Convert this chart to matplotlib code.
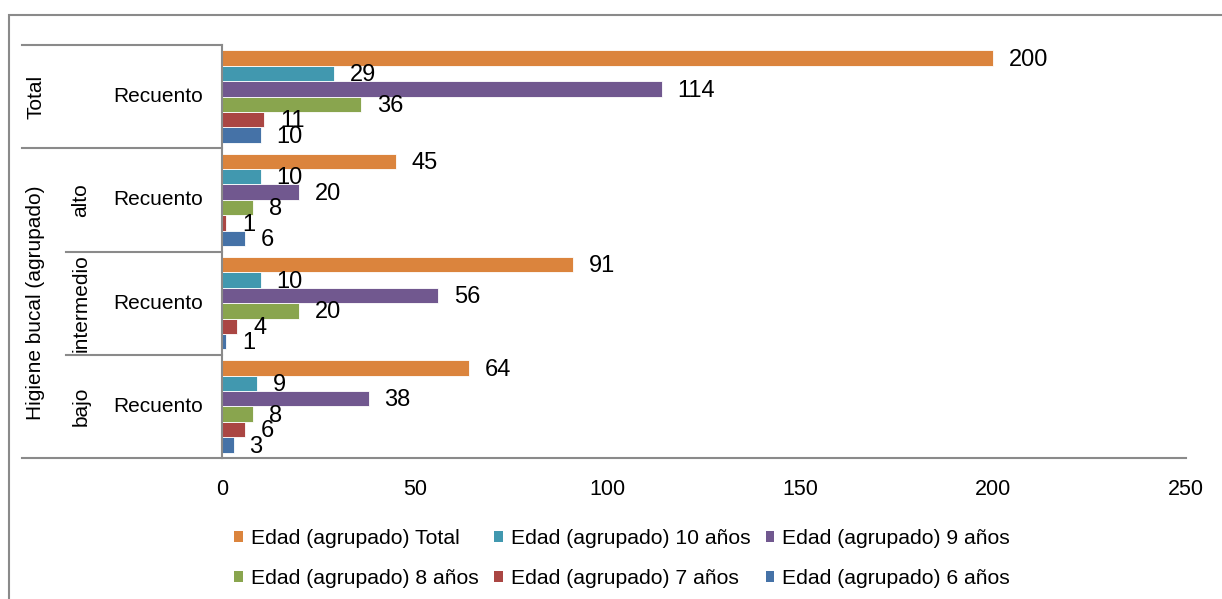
import matplotlib
matplotlib.use("Agg")
import matplotlib.pyplot as plt
import matplotlib.transforms as mtransforms
from matplotlib.patches import Rectangle, Patch
from matplotlib.lines import Line2D

plt.rcParams['font.family'] = ['Liberation Sans', 'DejaVu Sans']

# ---- data ----
groups = ["bajo", "intermedio", "alto", "Total"]          # bottom -> top
outer_labels = ["Higiene bucal (agrupado)", "Total"]
inner_label = "Recuento"
series_names = ["Edad (agrupado) 6 años", "Edad (agrupado) 7 años",
                "Edad (agrupado) 8 años", "Edad (agrupado) 9 años",
                "Edad (agrupado) 10 años", "Edad (agrupado) Total"]
v_6 = [3, 1, 6, 10]
v_7 = [6, 4, 1, 11]
v_8 = [8, 20, 8, 36]
v_9 = [38, 56, 20, 114]
v_10 = [9, 10, 10, 29]
v_total = [64, 91, 45, 200]
series_values = [v_6, v_7, v_8, v_9, v_10, v_total]
colors = ["#4572A7", "#AA4643", "#89A54E", "#71588F", "#4198AF", "#DB843D"]
xticks = [0, 50, 100, 150, 200, 250]

W, H = 1222, 599
fig = plt.figure(figsize=(W / 100, H / 100), dpi=100)
ax = fig.add_axes([222 / W, 1 - 458 / H, (1186 - 222) / W, (458 - 45) / H])

grey = "#8A8A8A"
bh = 0.149
n = len(series_values)
for i, (vals, col) in enumerate(zip(series_values, colors)):
    ys = [g + (i - (n - 1) / 2) * bh for g in range(len(groups))]
    ax.barh(ys, vals, height=bh, color=col, edgecolor="white", linewidth=0.6)
    for y, v in zip(ys, vals):
        ax.annotate(str(v), xy=(v, y), xytext=(11.5, -1.2), textcoords="offset points",
                    va="center", ha="left", fontsize=17, color="black")

ax.set_xlim(0, 250)
ax.set_ylim(-0.5, len(groups) - 0.5)
ax.set_xticks(xticks)
ax.set_xticklabels([str(t) for t in xticks], fontsize=15.5)
ax.tick_params(axis="x", length=0, pad=15)
ax.set_yticks([])
for s in ["top", "right"]:
    ax.spines[s].set_visible(False)
for s in ["left", "bottom"]:
    ax.spines[s].set_color(grey)
    ax.spines[s].set_linewidth(1.5)

# hierarchical category labels
tr = mtransforms.blended_transform_factory(fig.transFigure, ax.transData)
def fx(px):
    return px / W

for y, x0 in [(3.5, 22), (2.5, 22), (1.5, 66), (0.5, 66), (-0.5, 22)]:
    fig.add_artist(Line2D([fx(x0), fx(222)], [y, y], transform=tr, color=grey, lw=1.5))

fig.text(fx(36), 3, outer_labels[1], transform=tr, rotation=90, ha="center", va="center", fontsize=15)
fig.text(fx(36), 1, outer_labels[0], transform=tr, rotation=90, ha="center", va="center", fontsize=15)
for g, name in enumerate(groups[:3]):
    fig.text(fx(81), g, name, transform=tr, rotation=90, ha="center", va="center", fontsize=15)
for g in range(len(groups)):
    fig.text(fx(158), g, inner_label, transform=tr, ha="center", va="center", fontsize=15)

# legend
order = [5, 2, 4, 1, 3, 0]
handles = [Patch(facecolor=colors[k], edgecolor="none") for k in order]
labels = [series_names[k] for k in order]
fig.legend(handles, labels, ncol=3, loc="upper left",
           bbox_to_anchor=(234 / W, 1 - 529 / H), frameon=False, fontsize=15.2,
           handlelength=0.42, handleheight=0.42, handletextpad=0.38,
           columnspacing=0.72, labelspacing=0.98, borderpad=0, borderaxespad=0)

# outer frame
fig.add_artist(Rectangle((9 / W, -0.05), 1.1, 1 - 15 / H + 0.05, transform=fig.transFigure,
                         fill=False, edgecolor=grey, lw=1.5))

fig.savefig("out.png", dpi=100)
